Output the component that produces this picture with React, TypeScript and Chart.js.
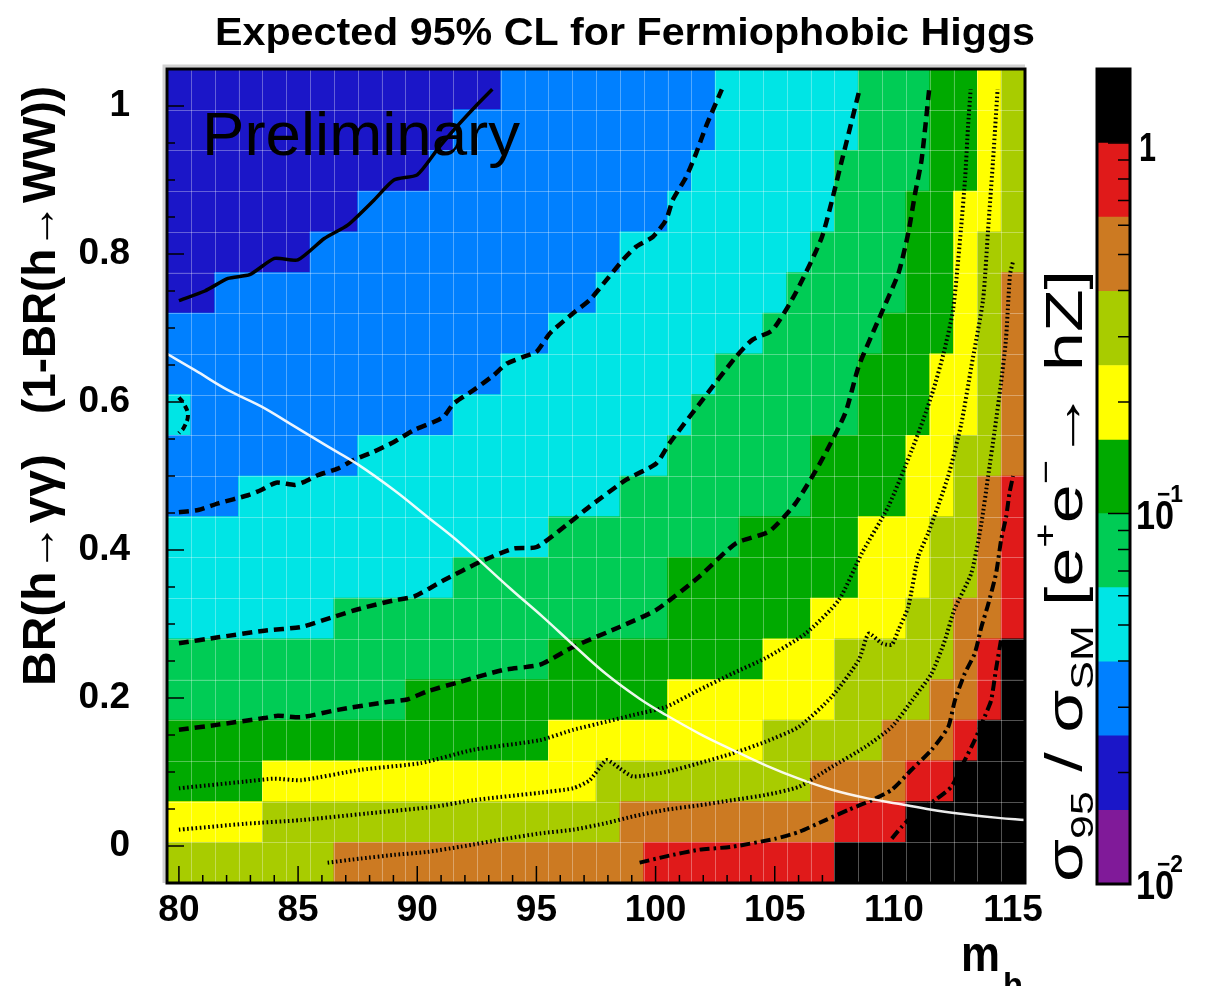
import { useEffect, useRef } from "react";
import { Chart, registerables } from "chart.js";

Chart.register(...registerables);

const W = 1207;
const H = 986;
const FONT = "'Liberation Sans', Arial, Helvetica, sans-serif";

// ---------------- text ----------------
const TITLE = "Expected 95% CL for Fermiophobic Higgs";
const WATERMARK = "Preliminary";
const Y_TITLE_PARTS = ["BR(h\u2192\u03b3\u03b3)", "(1-BR(h\u2192WW))"];
const X_TITLE_PARTS = ["m", "h"];
// colour-bar title: text, relative size, relative baseline shift (+ = subscript)
const Z_TITLE_SEGMENTS: [string, number, number][] = [
  ["\u03c3", 1, 0],
  ["95", 0.62, 0.22],
  [" / ", 1, 0],
  ["\u03c3", 1, 0],
  ["SM", 0.62, 0.22],
  [" [e", 1, 0],
  ["+", 0.6, -0.5],
  ["e", 1, 0],
  ["\u2212", 0.6, -0.5],
  ["\u2192 hZ]", 1, 0],
];

// ---------------- axes ----------------
const X_TICKS = [80, 85, 90, 95, 100, 105, 110, 115];
const Y_TICKS = [0, 0.2, 0.4, 0.6, 0.8, 1];
const Y_TICK_LABELS = ["0", "0.2", "0.4", "0.6", "0.8", "1"];
const Y_MINOR_TICKS = [0, 0.05, 0.1, 0.15, 0.2, 0.25, 0.3, 0.35, 0.4, 0.45, 0.5, 0.55, 0.6, 0.65, 0.7, 0.75, 0.8, 0.85, 0.9, 0.95, 1];
const Z_TICKS = [0.01, 0.1, 1];
const Z_TICK_MANTISSA = ["10", "10", "1"];
const Z_TICK_EXPONENT = ["\u22122", "\u22121", ""];
const Z_MINOR_TICKS = [0.02, 0.03, 0.04, 0.05, 0.06, 0.07, 0.08, 0.09, 0.2, 0.3, 0.4, 0.5, 0.6, 0.7, 0.8, 0.9];

// ---------------- histogram ----------------
const MASSES = [80, 81, 82, 83, 84, 85, 86, 87, 88, 89, 90, 91, 92, 93, 94, 95, 96, 97, 98, 99, 100, 101, 102, 103, 104, 105, 106, 107, 108, 109, 110, 111, 112, 113, 114, 115];
const BR_EDGES = [-0.05, 0.005, 0.06, 0.115, 0.17, 0.225, 0.28, 0.335, 0.39, 0.445, 0.5, 0.555, 0.61, 0.665, 0.72, 0.775, 0.83, 0.885, 0.94, 0.995, 1.05];
// sigma95/sigmaSM band edges of the colour scale
const LEVELS = [0.01, 0.0158, 0.0251, 0.0398, 0.0631, 0.1, 0.158, 0.251, 0.398, 0.631, 1, 1.585];
const PALETTE = ["#801a99", "#1b16c8", "#0080ff", "#00e5e5", "#00cc55", "#00aa00", "#ffff00", "#a8cc00", "#cc7a22", "#e01a1a", "#000000"];
// band index of every cell, per BR row (bottom -> top), as runs "band x count" along m_h
const CELL_ROWS = [
  "7x7 8x13 9x8 10x8",
  "6x4 7x15 8x9 9x3 10x5",
  "5x4 6x14 7x9 8x4 9x2 10x3",
  "5x16 6x9 7x5 8x3 9x1 10x2",
  "4x10 5x11 6x7 7x4 8x2 9x1 10x1",
  "4x16 5x9 6x3 7x5 8x1 9x1 10x1",
  "3x7 4x14 5x6 6x4 7x2 8x2 9x1",
  "3x12 4x9 5x8 6x3 7x2 8x1 9x1",
  "3x16 4x8 5x5 6x3 7x2 8x1 9x1",
  "2x3 3x16 4x8 5x4 6x2 7x1 8x1 9x1",
  "2x8 3x13 4x6 5x4 6x2 7x2 8x1",
  "3x1 2x11 3x10 4x7 5x3 6x2 7x1 8x1",
  "2x14 3x9 4x6 5x3 6x2 7x1 8x1",
  "2x16 3x9 4x5 5x3 6x1 7x1 8x1",
  "1x2 2x16 3x8 4x5 5x2 6x1 7x1 8x1",
  "1x6 2x13 3x8 4x4 5x2 6x1 7x2",
  "1x8 2x13 3x7 4x3 5x2 6x2 7x1",
  "1x11 2x11 3x6 4x4 5x2 6x1 7x1",
  "1x12 2x11 3x6 4x3 5x2 6x1 7x1",
  "1x14 2x9 3x6 4x3 5x2 6x1 7x1",
];

// ---------------- contours [m_h, BR] ----------------
const CONTOUR_SOLID = [[80.0, 0.737], [81.09, 0.75], [82.06, 0.767], [82.97, 0.772], [84.01, 0.794], [84.99, 0.792], [86.1, 0.821], [87.08, 0.839], [88.19, 0.873], [89.02, 0.9], [90.0, 0.907], [90.84, 0.941], [91.6, 0.97], [92.43, 0.999], [93.15, 1.0225]];
const CONTOUR_DASH_1 = [[80.0, 0.451], [80.81, 0.454], [81.65, 0.463], [82.9, 0.474], [83.45, 0.481], [84.08, 0.491], [84.85, 0.488], [85.26, 0.492], [85.82, 0.501], [86.66, 0.51], [87.35, 0.522], [88.19, 0.533], [89.02, 0.546], [89.86, 0.562], [90.69, 0.573], [91.11, 0.58], [91.53, 0.598], [92.36, 0.616], [93.2, 0.636], [93.76, 0.652], [94.45, 0.661], [95.01, 0.668], [95.57, 0.693], [96.54, 0.72], [97.24, 0.738], [97.94, 0.765], [98.63, 0.792], [99.19, 0.81], [99.88, 0.823], [100.44, 0.846], [100.72, 0.873], [101.28, 0.904], [101.7, 0.936], [102.11, 0.972], [102.78, 1.0225]];
const CONTOUR_DASH_ISLAND = [[80.0, 0.606], [80.2, 0.598], [80.38, 0.582], [80.2, 0.565], [80.0, 0.558]];
const CONTOUR_DASH_2 = [[80.0, 0.274], [81.65, 0.282], [83.59, 0.291], [85.13, 0.296], [86.52, 0.31], [87.63, 0.321], [89.02, 0.332], [89.86, 0.337], [91.11, 0.359], [92.64, 0.384], [94.04, 0.402], [95.01, 0.404], [96.27, 0.434], [97.24, 0.459], [98.77, 0.495], [100.03, 0.517], [100.58, 0.544], [101.97, 0.603], [103.37, 0.661], [104.06, 0.684], [104.9, 0.697], [105.87, 0.747], [106.98, 0.823], [107.82, 0.927], [108.56, 1.0225]];
const CONTOUR_DASH_3 = [[80.0, 0.157], [81.65, 0.164], [83.59, 0.173], [84.15, 0.176], [85.13, 0.174], [86.66, 0.184], [88.6, 0.194], [89.58, 0.198], [90.42, 0.209], [91.81, 0.222], [93.62, 0.238], [95.15, 0.245], [96.54, 0.269], [98.49, 0.296], [100.03, 0.319], [101.83, 0.364], [103.37, 0.409], [104.76, 0.425], [105.87, 0.463], [106.98, 0.522], [107.96, 0.585], [108.52, 0.648], [109.35, 0.711], [110.19, 0.774], [110.6, 0.828], [110.89, 0.882], [111.16, 0.927], [111.48, 1.0225]];
const CONTOUR_DOT_1 = [[80.0, 0.078], [82.76, 0.087], [84.01, 0.091], [85.13, 0.089], [87.63, 0.103], [90.14, 0.112], [92.36, 0.13], [95.15, 0.143], [96.54, 0.157], [97.94, 0.168], [99.05, 0.177], [100.44, 0.188], [101.83, 0.211], [103.22, 0.233], [104.62, 0.254], [106.29, 0.287], [107.68, 0.332], [108.66, 0.396], [109.77, 0.459], [110.75, 0.535], [111.23, 0.576], [111.65, 0.616], [112.07, 0.664], [112.48, 0.724], [112.82, 0.836], [112.99, 0.904], [113.11, 0.972], [113.22, 1.0225]];
const CONTOUR_DOT_2 = [[80.0, 0.022], [82.76, 0.03], [85.13, 0.035], [87.91, 0.044], [90.69, 0.053], [92.36, 0.062], [95.15, 0.072], [96.54, 0.078], [97.24, 0.089], [97.94, 0.116], [98.49, 0.105], [99.05, 0.094], [100.44, 0.1], [101.83, 0.112], [103.22, 0.125], [104.62, 0.141], [106.01, 0.161], [107.4, 0.202], [108.52, 0.251], [108.94, 0.287], [109.49, 0.274], [109.91, 0.272], [110.19, 0.292], [110.6, 0.323], [111.02, 0.391], [111.44, 0.423], [112.27, 0.499], [112.83, 0.571], [113.25, 0.648], [113.74, 0.738], [113.95, 0.832], [114.16, 0.927], [114.35, 1.0225]];
const CONTOUR_DOT_3 = [[86.24, -0.0225], [87.63, -0.017], [89.02, -0.012], [90.42, -0.008], [91.81, -0.001], [93.76, 0.01], [95.15, 0.017], [96.54, 0.022], [97.94, 0.031], [99.05, 0.04], [100.44, 0.049], [101.83, 0.055], [103.22, 0.062], [104.62, 0.069], [106.01, 0.08], [107.4, 0.107], [108.8, 0.134], [109.91, 0.161], [110.88, 0.202], [111.58, 0.233], [112.14, 0.278], [112.53, 0.319], [113.25, 0.369], [113.67, 0.436], [113.95, 0.499], [114.23, 0.562], [114.49, 0.625], [114.7, 0.684], [114.87, 0.772], [115.0, 0.79]];
const CONTOUR_DASHDOT_1 = [[99.33, -0.0225], [100.44, -0.014], [101.83, -0.005], [103.22, -0.001], [105.04, 0.01], [106.01, 0.019], [107.13, 0.035], [108.1, 0.049], [109.08, 0.062], [109.91, 0.076], [110.74, 0.103], [111.58, 0.13], [112.28, 0.161], [112.56, 0.197], [112.97, 0.233], [113.39, 0.26], [113.67, 0.296], [113.95, 0.326], [114.29, 0.369], [114.5, 0.414], [114.71, 0.445], [114.85, 0.477], [115.0, 0.5]];
const CONTOUR_DASHDOT_2 = [[109.91, 0.01], [110.33, 0.026], [110.89, 0.044], [111.72, 0.062], [112.41, 0.08], [112.94, 0.114], [113.39, 0.143], [113.81, 0.175], [114.08, 0.197], [114.28, 0.238], [114.49, 0.278]];
const BR_GAMMA_CURVE = [[79.5, 0.665], [80.67, 0.643], [82.06, 0.616], [83.45, 0.594], [84.85, 0.567], [86.24, 0.54], [87.49, 0.516], [89.02, 0.481], [90.42, 0.445], [91.81, 0.409], [93.9, 0.348], [95.29, 0.309], [96.54, 0.272], [97.94, 0.232], [99.33, 0.199], [100.44, 0.177], [101.83, 0.152], [103.22, 0.13], [104.62, 0.109], [106.01, 0.091], [107.4, 0.076], [108.8, 0.065], [110.19, 0.057], [111.58, 0.049], [112.97, 0.043], [114.37, 0.038], [115.5, 0.035]];

// ---------------- helpers ----------------
function fitText(ctx: CanvasRenderingContext2D, text: string, x: number, y: number, font: string, width: number, align: CanvasTextAlign = "left") {
  ctx.save();
  ctx.font = font;
  const w = ctx.measureText(text).width || 1;
  ctx.translate(x, y);
  ctx.scale(width / w, 1);
  ctx.textAlign = align;
  ctx.textBaseline = "alphabetic";
  ctx.fillStyle = "#000";
  ctx.fillText(text, 0, 0);
  ctx.restore();
}

function drawRich(ctx: CanvasRenderingContext2D, segs: [string, number, number][], size: number, weight: string, width: number) {
  let total = 0;
  const widths = segs.map(([t, s]) => {
    ctx.font = `${weight} ${Math.round(size * s)}px ${FONT}`;
    const w = ctx.measureText(t).width;
    total += w;
    return w;
  });
  ctx.save();
  ctx.scale(width / total, 1);
  ctx.fillStyle = "#000";
  ctx.textBaseline = "alphabetic";
  ctx.textAlign = "left";
  let x = 0;
  segs.forEach(([t, s, dy], i) => {
    ctx.font = `${weight} ${Math.round(size * s)}px ${FONT}`;
    ctx.fillText(t, x, dy * size);
    x += widths[i];
  });
  ctx.restore();
}

const mainDecor = {
  id: "mainDecor",
  afterDatasetDraw(chart: any, args: any) {
    // light cell grid, drawn right after the last histogram row and before the contours
    const firstBar = chart.data.datasets.findIndex((d: any) => d.type === "bar");
    if (args.index !== firstBar) return;
    const { ctx, chartArea: a, scales } = chart;
    ctx.save();
    ctx.strokeStyle = "rgba(255,255,255,0.32)";
    ctx.lineWidth = 1;
    ctx.beginPath();
    MASSES.slice(1).forEach((m) => {
      const p = Math.round(scales.x.getPixelForValue(m - 0.5)) + 0.5;
      ctx.moveTo(p, a.top);
      ctx.lineTo(p, a.bottom);
    });
    BR_EDGES.slice(1, -1).forEach((v) => {
      const p = Math.round(scales.y.getPixelForValue(v)) + 0.5;
      ctx.moveTo(a.left, p);
      ctx.lineTo(a.right, p);
    });
    ctx.stroke();
    ctx.restore();
  },
  afterDraw(chart: any) {
    const { ctx, chartArea: a, scales } = chart;
    const sx = scales.x;
    const sy = scales.y;
    ctx.save();
    // soft shadow of the frame
    ctx.strokeStyle = "rgba(0,0,0,0.18)";
    ctx.lineWidth = 3;
    ctx.beginPath();
    ctx.moveTo(a.left - 3, a.bottom);
    ctx.lineTo(a.left - 3, a.top - 3);
    ctx.lineTo(a.right, a.top - 3);
    ctx.stroke();
    // inner ticks
    ctx.strokeStyle = "#000";
    ctx.lineWidth = 1.5;
    ctx.beginPath();
    MASSES.forEach((m) => {
      const p = sx.getPixelForValue(m);
      const len = X_TICKS.includes(m) ? 17 : 8;
      ctx.moveTo(p, a.bottom);
      ctx.lineTo(p, a.bottom - len);
    });
    Y_MINOR_TICKS.forEach((v) => {
      const p = sy.getPixelForValue(v);
      const len = Y_TICKS.includes(v) ? 17 : 8;
      ctx.moveTo(a.left, p);
      ctx.lineTo(a.left + len, p);
    });
    ctx.stroke();
    // frame
    ctx.lineWidth = 3;
    ctx.strokeRect(a.left, a.top, a.right - a.left, a.bottom - a.top);

    // texts
    fitText(ctx, TITLE, 625, 45, `bold 38px ${FONT}`, 820, "center");
    fitText(ctx, WATERMARK, 202, 155, `62px ${FONT}`, 318);

    ctx.save();
    ctx.translate(55, 686);
    ctx.rotate(-Math.PI / 2);
    fitText(ctx, Y_TITLE_PARTS[0], 0, 0, `bold 46px ${FONT}`, 232);
    fitText(ctx, Y_TITLE_PARTS[1], 272, 0, `bold 46px ${FONT}`, 328);
    ctx.restore();

    fitText(ctx, X_TITLE_PARTS[0], 961, 971, `bold 50px ${FONT}`, 39);
    fitText(ctx, X_TITLE_PARTS[1], 1003, 996, `bold 34px ${FONT}`, 20);

    ctx.save();
    ctx.translate(1082, 882);
    ctx.rotate(-Math.PI / 2);
    drawRich(ctx, Z_TITLE_SEGMENTS, 52, "normal", 612);
    ctx.restore();

    ctx.restore();
  },
};

const barDecor = {
  id: "barDecor",
  afterDraw(chart: any) {
    const { ctx, chartArea: a, scales } = chart;
    const sy = scales.y;
    ctx.save();
    ctx.strokeStyle = "#000";
    ctx.lineWidth = 1.5;
    ctx.beginPath();
    Z_MINOR_TICKS.forEach((v) => {
      const p = sy.getPixelForValue(v);
      ctx.moveTo(a.right, p);
      ctx.lineTo(a.right - 12, p);
    });
    Z_TICKS.forEach((v) => {
      const p = sy.getPixelForValue(v);
      ctx.moveTo(a.right, p);
      ctx.lineTo(a.right - 22, p);
    });
    ctx.stroke();
    ctx.lineWidth = 3;
    ctx.strokeRect(a.left, a.top, a.right - a.left, a.bottom - a.top);
    // tick labels of the colour scale (mantissa + raised exponent)
    Z_TICKS.forEach((v, i) => {
      const p = sy.getPixelForValue(v);
      const mant = Z_TICK_MANTISSA[i];
      if (Z_TICK_EXPONENT[i]) {
        fitText(ctx, mant, a.right + 6, p + 15, `bold 40px ${FONT}`, 38);
        fitText(ctx, Z_TICK_EXPONENT[i], a.right + 27, p - 12, `bold 24px ${FONT}`, 26);
      } else {
        fitText(ctx, mant, a.right + 9, p + 18, `bold 40px ${FONT}`, 17);
      }
    });
    ctx.restore();
  },
};

function lineDataset(points: number[][], color: string, width: number, dash: number[], tension = 0.2) {
  return {
    type: "line" as const,
    data: points.map(([x, y]) => ({ x, y })),
    borderColor: color,
    borderWidth: width,
    borderDash: dash,
    borderCapStyle: "butt" as const,
    pointRadius: 0,
    fill: false,
    tension,
    order: 0,
    xAxisID: "x",
    yAxisID: "y",
  };
}

function decodeRow(runs: string): number[] {
  const out: number[] = [];
  runs.split(" ").forEach((r) => {
    const [lvl, n] = r.split("x").map(Number);
    for (let k = 0; k < n; k++) out.push(lvl);
  });
  return out;
}

const tickFont = { family: FONT, size: 37, weight: "bold" as const };

function mainConfig(): any {
  const cellSets = CELL_ROWS.map((runs, r) => {
    const bands = decodeRow(runs);
    return {
      type: "bar" as const,
      data: MASSES.map((m) => ({ x: m, y: [BR_EDGES[r], BR_EDGES[r + 1]] })),
      backgroundColor: bands.map((b) => PALETTE[b]),
      borderWidth: 0,
      grouped: false,
      categoryPercentage: 1,
      barPercentage: 1,
      order: 1,
      xAxisID: "x",
      yAxisID: "y",
    };
  });
  const dash = [10, 6];
  const dot = [1.6, 2.6];
  const dashDot = [10, 4, 2.5, 4];
  const lines = [
    lineDataset(BR_GAMMA_CURVE, "rgba(255,255,255,0.92)", 2.5, [], 0.4),
    lineDataset(CONTOUR_SOLID, "#000", 3.5, []),
    lineDataset(CONTOUR_DASH_1, "#000", 4.5, dash),
    lineDataset(CONTOUR_DASH_ISLAND, "#000", 4, [6, 4], 0.4),
    lineDataset(CONTOUR_DASH_2, "#000", 4.5, dash),
    lineDataset(CONTOUR_DASH_3, "#000", 4.5, dash),
    lineDataset(CONTOUR_DOT_1, "#000", 4, dot),
    lineDataset(CONTOUR_DOT_2, "#000", 4, dot),
    lineDataset(CONTOUR_DOT_3, "#000", 4, dot),
    lineDataset(CONTOUR_DASHDOT_1, "#000", 4, dashDot),
    lineDataset(CONTOUR_DASHDOT_2, "#000", 4, dashDot),
  ];
  return {
    type: "bar",
    data: { datasets: [...lines, ...cellSets] },
    options: {
      responsive: false,
      animation: false,
      events: [],
      layout: { padding: { left: 47, right: 182, top: 69, bottom: 43 } },
      plugins: { legend: { display: false }, tooltip: { enabled: false }, title: { display: false } },
      scales: {
        x: {
          type: "linear",
          min: 79.5,
          max: 115.5,
          offset: false,
          afterBuildTicks: (s: any) => {
            s.ticks = X_TICKS.map((v) => ({ value: v }));
          },
          afterFit: (s: any) => {
            s.height = 60;
          },
          ticks: { font: tickFont, color: "#000", padding: 6, autoSkip: false, maxRotation: 0, callback: (v: any) => String(v) },
          grid: { display: false, drawTicks: false, offset: false },
          border: { display: false },
        },
        y: {
          type: "linear",
          min: -0.05,
          max: 1.05,
          afterBuildTicks: (s: any) => {
            s.ticks = Y_TICKS.map((v) => ({ value: v }));
          },
          afterFit: (s: any) => {
            s.width = 120;
          },
          ticks: { font: tickFont, color: "#000", padding: 37, autoSkip: false, callback: (_v: any, i: number) => Y_TICK_LABELS[i] },
          grid: { display: false, drawTicks: false },
          border: { display: false },
        },
      },
    },
    plugins: [mainDecor],
  };
}

function barConfig(): any {
  const bands = PALETTE.map((c, k) => ({
    data: [[LEVELS[k], LEVELS[k + 1]]],
    backgroundColor: c,
    borderWidth: 0,
    grouped: false,
    categoryPercentage: 1,
    barPercentage: 1,
  }));
  return {
    type: "bar",
    data: { labels: ["\u03c3"], datasets: bands },
    options: {
      responsive: false,
      animation: false,
      events: [],
      layout: { padding: { left: 1097, right: 17, top: 69, bottom: 102 } },
      plugins: { legend: { display: false }, tooltip: { enabled: false } },
      scales: {
        x: { display: false },
        y: {
          type: "logarithmic",
          position: "right",
          min: LEVELS[0],
          max: LEVELS[LEVELS.length - 1],
          afterBuildTicks: (s: any) => {
            s.ticks = Z_TICKS.map((v) => ({ value: v }));
          },
          afterFit: (s: any) => {
            s.width = 60;
          },
          ticks: { display: false },
          grid: { display: false, drawTicks: false },
          border: { display: false },
        },
      },
    },
    plugins: [barDecor],
  };
}

export default function App() {
  const mainRef = useRef<HTMLCanvasElement>(null);
  const barRef = useRef<HTMLCanvasElement>(null);
  useEffect(() => {
    const main = new Chart(mainRef.current as HTMLCanvasElement, mainConfig());
    const bar = new Chart(barRef.current as HTMLCanvasElement, barConfig());
    return () => {
      main.destroy();
      bar.destroy();
    };
  }, []);
  return (
    <div style={{ position: "absolute", left: 0, top: 0, width: W, height: H, background: "#fff", overflow: "hidden" }}>
      <canvas ref={mainRef} width={W} height={H} style={{ position: "absolute", left: 0, top: 0 }} />
      <canvas ref={barRef} width={W} height={H} style={{ position: "absolute", left: 0, top: 0 }} />
    </div>
  );
}
